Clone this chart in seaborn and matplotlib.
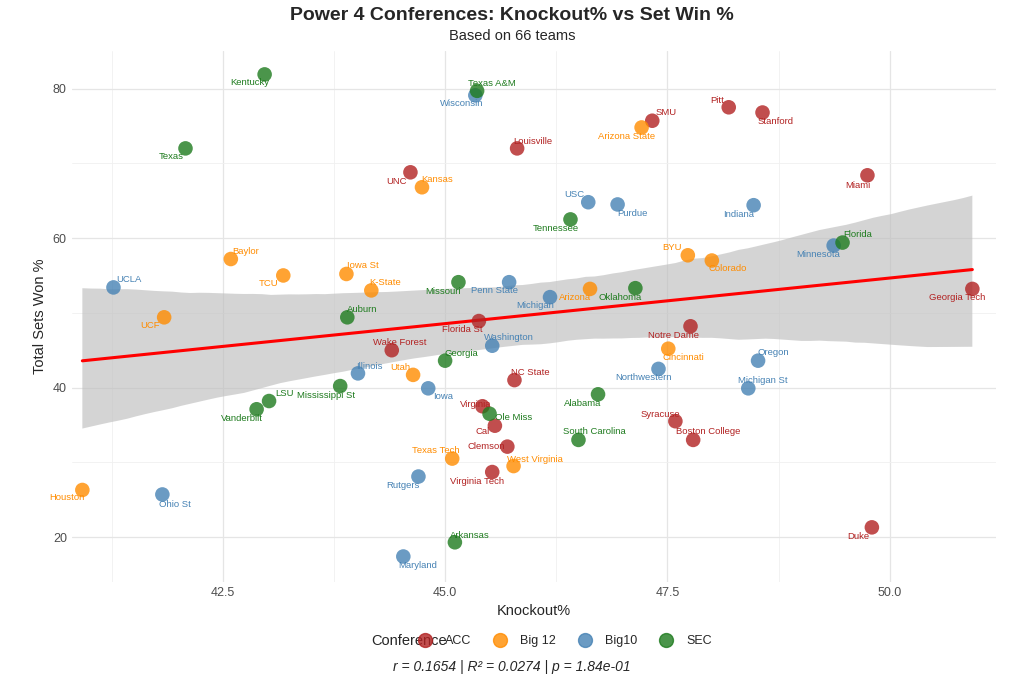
import numpy as np
import pandas as pd
import seaborn as sns
from matplotlib import pyplot as plt
from matplotlib.lines import Line2D

teams = ["Pitt","Stanford","SMU","Louisville","Miami","UNC","Georgia Tech","Florida St","Notre Dame","Wake Forest",
         "NC State","Virginia","Cal","Clemson","Virginia Tech","Syracuse","Boston College","Duke",
         "Arizona State","Kansas","Baylor","TCU","Iowa St","K-State","BYU","Colorado","Arizona","UCF",
         "Cincinnati","Utah","Texas Tech","West Virginia","Houston",
         "Wisconsin","USC","Purdue","Indiana","Minnesota","UCLA","Penn State","Michigan","Washington",
         "Oregon","Northwestern","Michigan St","Illinois","Iowa","Rutgers","Ohio St","Maryland",
         "Kentucky","Texas A&M","Texas","Tennessee","Florida","Missouri","Oklahoma","Auburn","Georgia",
         "Mississippi St","LSU","Vanderbilt","Alabama","Ole Miss","South Carolina","Arkansas"]
conference = ["ACC"]*18 + ["Big 12"]*15 + ["Big10"]*17 + ["SEC"]*16
knockout = [48.19,48.57,47.33,45.81,49.75,44.61,50.93,45.38,47.76,44.40,
            45.78,45.42,45.56,45.70,45.53,47.59,47.79,49.80,
            47.21,44.74,42.59,43.18,43.89,44.17,47.73,48.00,46.63,41.84,
            47.51,44.64,45.08,45.77,40.92,
            45.34,46.61,46.94,48.47,49.37,41.27,45.72,46.18,45.53,
            48.52,47.40,48.41,44.02,44.81,44.70,41.82,44.53,
            42.97,45.36,42.08,46.41,49.47,45.15,47.14,43.90,45.00,
            43.82,43.02,42.88,46.72,45.50,46.50,45.11]
sets_won = [77.5,76.8,75.7,72.0,68.4,68.8,53.2,48.9,48.2,45.0,
            41.0,37.5,34.9,32.1,28.7,35.5,33.0,21.3,
            74.8,66.8,57.2,55.0,55.2,53.0,57.7,57.0,53.2,49.4,
            45.2,41.7,30.5,29.5,26.3,
            79.1,64.8,64.5,64.4,59.0,53.4,54.1,52.1,45.6,
            43.6,42.5,39.9,41.9,39.9,28.1,25.7,17.4,
            81.9,79.7,72.0,62.5,59.4,54.1,53.3,49.4,43.6,
            40.2,38.2,37.1,39.1,36.5,33.0,19.3]
# label offsets (pixels)
label_dx = [-12,13,14,16,-10,-14,-15,-17,-17,8,16,-7,-12,-21,-15,-15,15,-14,
            -15,15,15,-15,16,14,-16,16,-15,-14,15,-13,-16,21,-15,
            -14,-14,15,-15,-15,15,-15,-15,17,15,-15,15,11,15,-15,13,14,
            -15,15,-14,-15,15,-15,-15,15,16,-14,15,-15,-15,24,16,15]
label_dy = [7,-9,8,7,-10,-9,-9,-8,-9,8,8,2,-6,0,-9,7,8,-9,
            -9,8,8,-8,8,8,8,-8,-9,-8,-9,7,8,7,-8,
            -8,8,-9,-9,-9,8,-8,-8,8,8,-9,8,7,-8,-9,-10,-9,
            -8,7,-8,-9,8,-9,-9,8,7,-9,8,-9,-9,-4,8,7]

palette = {"ACC": "#B22222", "Big 12": "#FF8C00", "Big10": "#4682B4", "SEC": "#1E7B1E"}
df = pd.DataFrame({"team": teams, "conf": conference, "ko": knockout, "sw": sets_won})

sns.set_theme(style="whitegrid")
plt.rcParams["font.family"] = ["Liberation Sans", "DejaVu Sans"]
fig = plt.figure(figsize=(10.24, 6.83), dpi=100)
ax = fig.add_axes([0.070, 0.148, 0.903, 0.777])

sns.regplot(data=df, x="ko", y="sw", scatter=False, ci=95, ax=ax,
            line_kws={"color": "red", "lw": 2.2}, truncate=True)
for c in ax.collections:
    c.set_facecolor("#BEBEBE")
    c.set_edgecolor("none")
    c.set_alpha(0.65)
sns.scatterplot(data=df, x="ko", y="sw", hue="conf", palette=palette, s=110, alpha=0.8,
                edgecolor="none", ax=ax, legend=False, zorder=3)
for t, cf, x, y, dx, dy in zip(teams, conference, knockout, sets_won, label_dx, label_dy):
    ax.annotate(t, (x, y), xytext=(dx, dy), textcoords="offset pixels", ha="center", va="center",
                fontsize=6.8, color=palette[cf], zorder=4)

ax.set_xlim(40.8, 51.2)
ax.set_ylim(14, 85)
ax.set_xticks([42.5, 45.0, 47.5, 50.0])
ax.set_xticklabels(["42.5", "45.0", "47.5", "50.0"])
ax.set_yticks([20, 40, 60, 80])
ax.set_xticks([41.25, 43.75, 46.25, 48.75], minor=True)
ax.set_yticks([30, 50, 70], minor=True)
ax.grid(which="major", color="#E5E5E5", lw=0.9)
ax.grid(which="minor", color="#F0F0F0", lw=0.6)
ax.tick_params(labelsize=9, colors="#4D4D4D", length=0)
for s in ax.spines.values():
    s.set_visible(False)
ax.set_xlabel("Knockout%", fontsize=10.5)
ax.set_ylabel("Total Sets Won %", fontsize=10.5)

fig.text(0.5, 0.977, "Power 4 Conferences: Knockout% vs Set Win %", ha="center", va="center",
         fontsize=14, fontweight="bold")
fig.text(0.5, 0.947, "Based on 66 teams", ha="center", va="center", fontsize=10.5)

handles = [Line2D([], [], marker="o", ls="", color=palette[k], alpha=0.8, markersize=10) for k in palette]
fig.legend(handles, list(palette), loc="center", bbox_to_anchor=(0.549, 0.061),
           ncol=4, frameon=False, fontsize=9, handletextpad=0.6, columnspacing=1.3)
fig.text(0.436, 0.061, "Conference", ha="right", va="center", fontsize=10.5)

fig.text(0.5, 0.023, "r = 0.1654 | R² = 0.0274 | p = 1.84e-01", ha="center", va="center",
         fontsize=10, style="italic")
fig.savefig("out.png", dpi=100)
